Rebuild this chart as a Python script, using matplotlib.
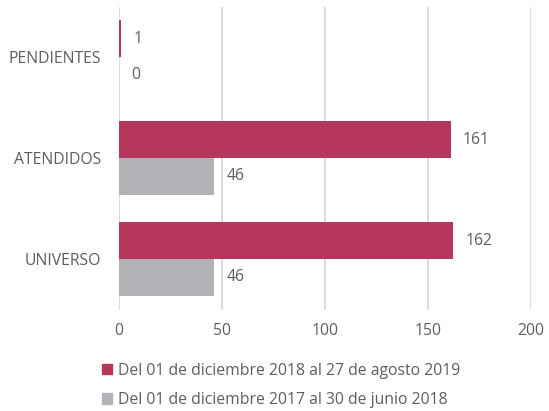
import matplotlib
matplotlib.use("Agg")
import matplotlib.pyplot as plt
import numpy as np
from matplotlib.patches import Patch

# Data
categories = ["UNIVERSO", "ATENDIDOS", "PENDIENTES"]
serie_2019 = [162, 161, 1]
serie_2018 = [46, 46, 0]
labels = ["Del 01 de diciembre 2018 al 27 de agosto 2019",
          "Del 01 de diciembre 2017 al 30 de junio 2018"]

red = "#B5385C"
gray = "#B1B3B6"
text_color = "#5E5E5E"

plt.rcParams["font.family"] = ["Open Sans", "DejaVu Sans"]
fs = 11.3

fig = plt.figure(figsize=(5.49, 4.11), dpi=100)
ax = fig.add_axes([0.2168, 0.2457, 0.967 - 0.2168, 0.983 - 0.2457])

y = np.arange(len(categories))
h = 0.365
bars1 = ax.barh(y + h / 2, serie_2019, height=h, color=red, zorder=3)
bars2 = ax.barh(y - h / 2, serie_2018, height=h, color=gray, zorder=3)

for bars, vals in [(bars1, serie_2019), (bars2, serie_2018)]:
    for b, v in zip(bars, vals):
        ax.annotate(str(v), (v, b.get_y() + b.get_height() / 2),
                    xytext=(9, 0), textcoords="offset points",
                    va="center", ha="left", fontsize=fs, color=text_color)

ax.set_xlim(0, 200)
ax.set_ylim(-0.505, 2.495)
ax.set_xticks([0, 50, 100, 150, 200])
ax.set_yticks(y)
ax.set_yticklabels(categories)
ax.xaxis.grid(True, color="#DCDCDC", linewidth=1.5, zorder=0)
for s in ax.spines.values():
    s.set_visible(False)
ax.tick_params(axis="both", length=0, labelsize=fs, labelcolor=text_color)
ax.tick_params(axis="x", pad=9)
ax.tick_params(axis="y", pad=13)

handles = [Patch(color=red), Patch(color=gray)]
fig.legend(handles, labels, loc="upper left", bbox_to_anchor=(0.172, 0.137),
           frameon=False, fontsize=fs, labelcolor=text_color,
           handlelength=0.65, handleheight=0.65, handletextpad=0.35,
           labelspacing=0.85, borderpad=0)

fig.savefig("out.png", dpi=100)
